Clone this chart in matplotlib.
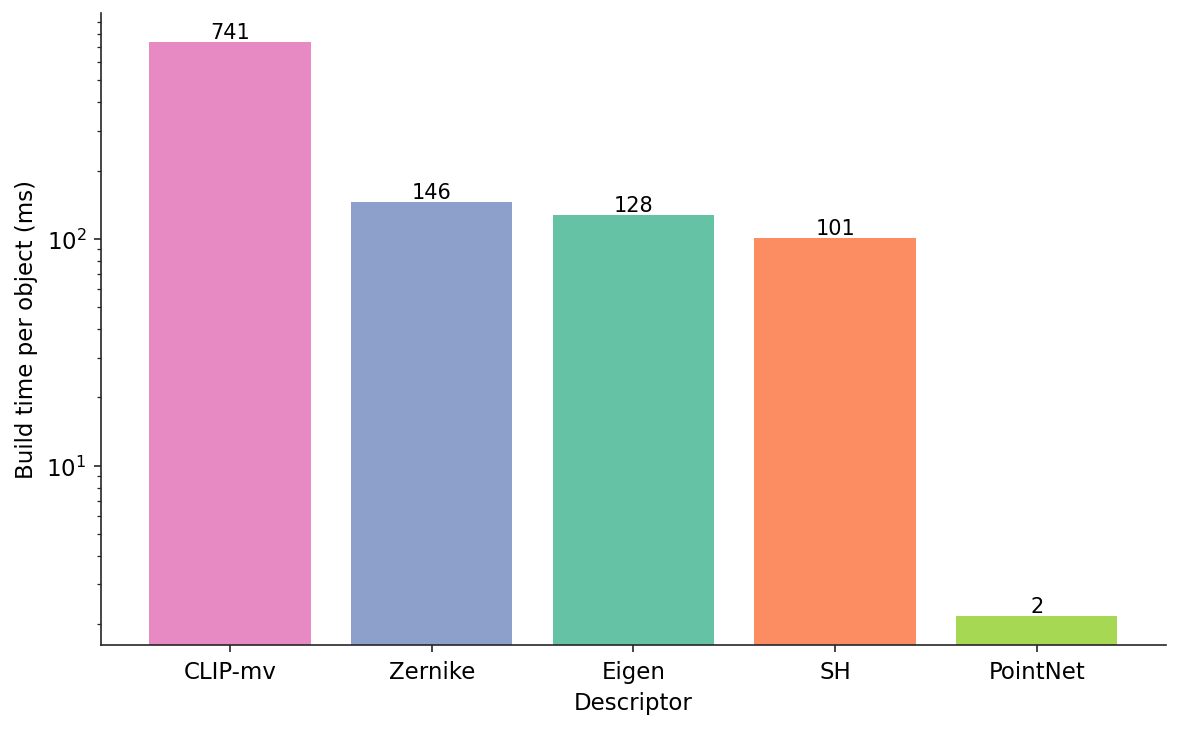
import matplotlib
matplotlib.use('Agg')
import matplotlib.pyplot as plt

# Build time data
descriptors = ['CLIP-mv', 'Zernike', 'Eigen', 'SH', 'PointNet']
build_ms = [741, 146, 128, 101, 2.17]
colors = ['#e78ac3', '#8da0cb', '#66c2a5', '#fc8d62', '#a6d854']

fig = plt.figure(figsize=(1180 / 150, 730 / 150), dpi=150)
ax = fig.add_axes([0.0856, 0.115, 0.9024, 0.866])

bars = ax.bar(descriptors, build_ms, color=colors, width=0.8)
ax.set_yscale('log')
ax.bar_label(bars, labels=[f'{v:.0f}' for v in build_ms], padding=0, fontsize=10)

ax.set_xlabel('Descriptor', fontsize=11)
ax.set_ylabel('Build time per object (ms)', fontsize=11)
ax.tick_params(axis='both', which='major', labelsize=11)

# despine
ax.spines['top'].set_visible(False)
ax.spines['right'].set_visible(False)
for s in ('left', 'bottom'):
    ax.spines[s].set_color('#262626')
ax.tick_params(colors='#262626', labelcolor='black')
ax.tick_params(which='minor', colors='#262626')

fig.savefig('out.png', dpi=150)
